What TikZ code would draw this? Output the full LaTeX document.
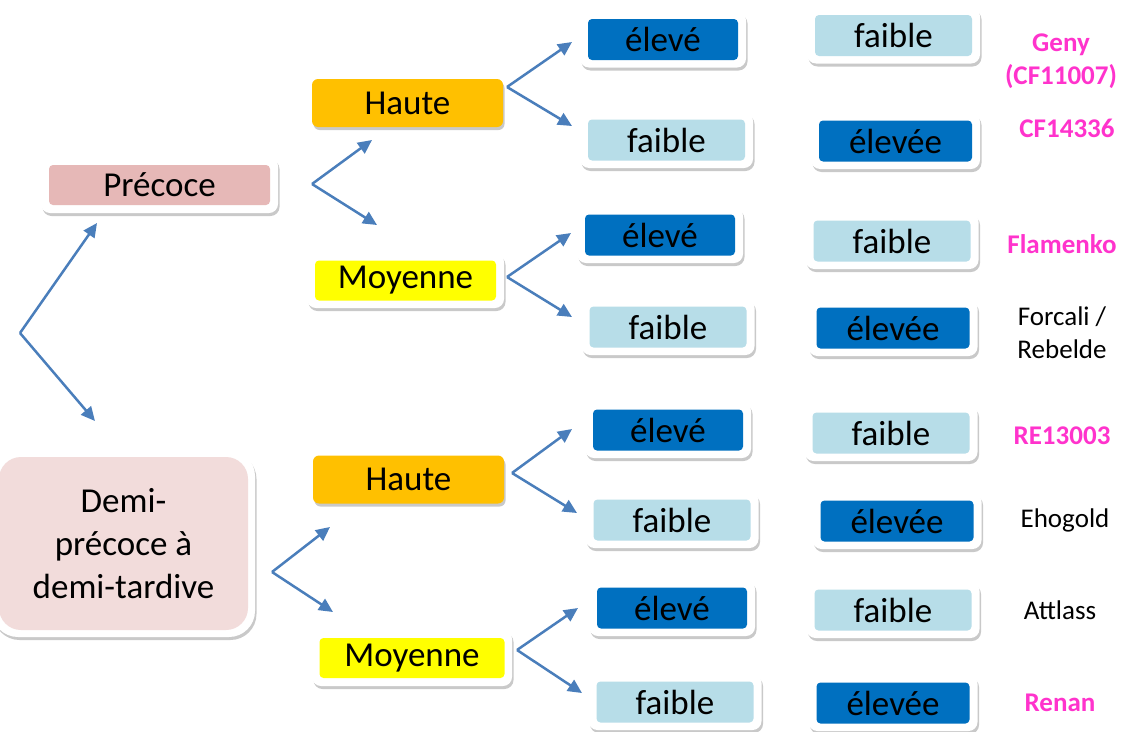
\documentclass[tikz,border=0pt]{standalone}
\usepackage{fontspec}
\setmainfont{Carlito}
\usetikzlibrary{shadows,arrows.meta}
\definecolor{arrowblue}{HTML}{4A7EBB}
\definecolor{precoce}{HTML}{E6B8B7}
\definecolor{demi}{HTML}{F2DCDB}
\definecolor{orangeH}{HTML}{FFC000}
\definecolor{yellowM}{HTML}{FFFF00}
\definecolor{darkB}{HTML}{0070C0}
\definecolor{lightB}{HTML}{B7DDE8}
\definecolor{magentaL}{HTML}{FF33CC}
\tikzset{
  frame/.style={fill=white, rounded corners=9pt, inner sep=0pt,
    drop shadow={shadow xshift=1.5pt, shadow yshift=-3pt, opacity=0.3, fill=black!70}},
  inbox/.style={rounded corners=4pt, inner sep=0pt, font=\fontsize{35}{42.7}\selectfont},
  colbox/.style={rounded corners=6pt, inner sep=0pt, font=\fontsize{35}{42.7}\selectfont,
    drop shadow={shadow xshift=1.5pt, shadow yshift=-3pt, opacity=0.3, fill=black!70}},
  hi/.style={inbox, fill=darkB, minimum width=150pt, minimum height=41pt},
  lo/.style={inbox, fill=lightB, minimum width=157pt, minimum height=41pt},
  hie/.style={inbox, fill=darkB, minimum width=153pt, minimum height=41pt},
  leafframe/.style={frame, minimum width=#1, minimum height=56pt},
  conn/.style={draw=arrowblue, line width=2.5pt, -{Triangle[length=14pt,width=13pt]}},
  lab/.style={font=\fontsize{27}{33}\selectfont, align=center},
  labm/.style={lab, text=magentaL, font=\fontsize{27}{33}\selectfont\bfseries}
}
\begin{document}
\begin{tikzpicture}[x=1pt,y=-1pt]
\useasboundingbox (0,0) rectangle (1123,731);
% level 1
\node[frame, minimum width=237pt, minimum height=56pt] (precf) at (159.5,185) {};
\node[inbox, fill=precoce, minimum width=221pt, minimum height=40pt] (prec) at (159.5,185) {Précoce};
\node[frame, rounded corners=26pt, minimum width=263pt, minimum height=187pt] (demif) at (123.5,543.5) {};
\node[inbox, rounded corners=22pt, fill=demi, minimum width=249pt, minimum height=173pt, align=center] (demi) at (123.5,543.5) {Demi-\\précoce à\\demi-tardive};
% level 2
\node[colbox, fill=orangeH, minimum width=191pt, minimum height=48pt] (h1) at (407.5,103) {Haute};
\node[frame, minimum width=197pt, minimum height=55pt] (m1f) at (405.5,280.5) {};
\node[inbox, fill=yellowM, minimum width=181pt, minimum height=40pt] (m1) at (405.5,280.5) {Moyenne};
\node[colbox, fill=orangeH, minimum width=191pt, minimum height=48pt] (h2) at (408.5,479.5) {Haute};
\node[frame, minimum width=200pt, minimum height=56pt] (m2f) at (412,658) {};
\node[inbox, fill=yellowM, minimum width=185pt, minimum height=40pt] (m2) at (412,658) {Moyenne};
% leaves column 1
\node[leafframe=166pt] (a1f) at (663,39.5) {};   \node[hi] (a1) at (663,39.5) {élevé};
\node[leafframe=173pt] (a2f) at (666.5,140) {};  \node[lo] (a2) at (666.5,140) {faible};
\node[leafframe=166pt] (a3f) at (660,235) {};    \node[hi] (a3) at (660,235) {élevé};
\node[leafframe=173pt] (a4f) at (668,327) {};    \node[lo] (a4) at (668,327) {faible};
\node[leafframe=166pt] (a5f) at (668,430) {};    \node[hi] (a5) at (668,430) {élevé};
\node[leafframe=173pt] (a6f) at (672,520) {};    \node[lo] (a6) at (672,520) {faible};
\node[leafframe=166pt] (a7f) at (672,608) {};    \node[hi] (a7) at (672,608) {élevé};
\node[leafframe=173pt] (a8f) at (675,702) {};    \node[lo] (a8) at (675,702) {faible};
% leaves column 2
\node[leafframe=173pt] (b1f) at (893.5,35.5) {}; \node[lo] (b1) at (893.5,35.5) {faible};
\node[leafframe=169pt] (b2f) at (895.5,141) {};  \node[hie] (b2) at (895.5,141) {élevée};
\node[leafframe=173pt] (b3f) at (892,241) {};    \node[lo] (b3) at (892,241) {faible};
\node[leafframe=169pt] (b4f) at (893,328) {};    \node[hie] (b4) at (893,328) {élevée};
\node[leafframe=173pt] (b5f) at (891,433) {};    \node[lo] (b5) at (891,433) {faible};
\node[leafframe=169pt] (b6f) at (897,521) {};    \node[hie] (b6) at (897,521) {élevée};
\node[leafframe=173pt] (b7f) at (893,610) {};    \node[lo] (b7) at (893,610) {faible};
\node[leafframe=169pt] (b8f) at (893,703) {};    \node[hie] (b8) at (893,703) {élevée};
% labels
\node[labm] (l1) at (1061,61) {Geny\\(CF11007)};
\node[labm] (l2) at (1067,128) {CF14336};
\node[labm] (l3) at (1062,244) {Flamenko};
\node[lab] (l4) at (1062,333) {Forcali /\\Rebelde};
\node[labm] (l5) at (1062,436) {RE13003};
\node[lab] (l6) at (1065,520) {Ehogold};
\node[lab] (l7) at (1060,610) {Attlass};
\node[labm] (l8) at (1060,703) {Renan};
% fork points and arrow tips
\coordinate (f0) at (20,333);  \coordinate (t0a) at (97,223);  \coordinate (t0b) at (95,421);
\coordinate (f1) at (312,184); \coordinate (t1a) at (372,140); \coordinate (t1b) at (377,225);
\coordinate (f2) at (272,572); \coordinate (t2a) at (330,527); \coordinate (t2b) at (333,612);
\coordinate (f3) at (507,87);  \coordinate (t3a) at (572,42);  \coordinate (t3b) at (572,126);
\coordinate (f4) at (507,277); \coordinate (t4a) at (571,233); \coordinate (t4b) at (572,317);
\coordinate (f5) at (512,473); \coordinate (t5a) at (572,429); \coordinate (t5b) at (577,513);
\coordinate (f6) at (517,650); \coordinate (t6a) at (578,608); \coordinate (t6b) at (582,693);
\foreach \i in {0,...,6}{
  \draw[conn] (f\i) -- (t\i a);
  \draw[conn] (f\i) -- (t\i b);
}
\end{tikzpicture}
\end{document}
